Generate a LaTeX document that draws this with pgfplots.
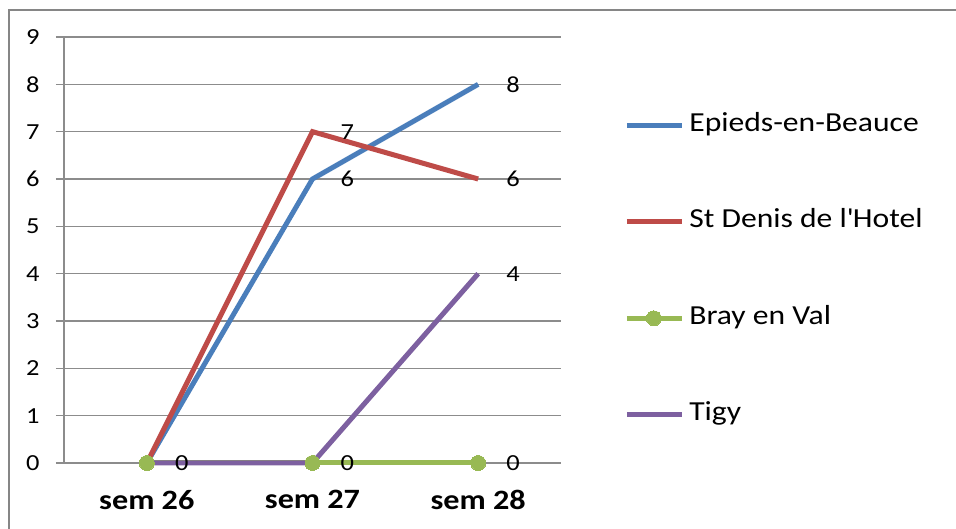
\documentclass[border=0pt]{standalone}
\usepackage{pgfplots}
\pgfplotsset{compat=1.18}
\usepackage{fontspec}
\setmainfont{Carlito}[FakeStretch=1.15]
\definecolor{cblue}{HTML}{4A7EBB}
\definecolor{cred}{HTML}{BE4B48}
\definecolor{cgreen}{HTML}{98B954}
\definecolor{cpurple}{HTML}{7D60A0}
\definecolor{axgray}{HTML}{8C8C8C}
\definecolor{bordergray}{HTML}{868686}
\begin{document}
\begin{tikzpicture}[x=1pt,y=1pt]
\useasboundingbox (0,0) rectangle (956,529);
\draw[line width=2.5pt, bordergray] (9,-5) -- (9,519) -- (960,519);
\begin{axis}[
  at={(64pt,66pt)}, anchor=south west,
  scale only axis, width=497pt, height=426pt,
  xmin=-0.5, xmax=2.5, ymin=0, ymax=9,
  axis x line*=bottom, axis y line*=left,
  axis line style={axgray, line width=1.2pt},
  ytick={0,1,...,9},
  ymajorgrids, grid style={axgray, line width=1.2pt},
  tick align=outside, major tick length=8pt,
  tick style={axgray, line width=1.2pt},
  /pgf/number format/assume math mode=true,
  yticklabel style={font=\fontsize{23pt}{26pt}\selectfont, xshift=-13pt},
  xtick={0,1,2},
  xticklabels={sem 26, sem 27, sem 28},
  x tick style={draw=none},
  xticklabel style={font=\fontsize{28pt}{32pt}\selectfont\bfseries, yshift=-16pt},
  extra x ticks={-0.5,0.5,1.5,2.5},
  extra x tick labels={},
  extra x tick style={grid=none, major tick length=10pt, tick style={axgray, line width=1.2pt}},
  clip=false,
  every node near coord/.append style={font=\fontsize{23pt}{26pt}\selectfont, anchor=west, inner sep=0pt, xshift=28pt, text=black},
  legend style={at={(1.127,0.453)}, anchor=west, draw=none, fill=none, inner sep=0pt,
    font=\fontsize{27.5pt}{30pt}\selectfont, row sep=72.5pt, column sep=5pt,
    nodes={inner sep=0pt, text height=18pt, text depth=6pt}},
  legend cell align=left,
  legend image code/.code={\draw[#1, mark repeat=2, mark phase=2] plot coordinates {(0pt,0pt) (27pt,0pt) (55pt,0pt)};},
]
\addplot[cblue, line width=5pt, no markers] coordinates {(0,0) (1,6) (2,8)};
\addlegendentry{Epieds-en-Beauce}
\addplot[cred, line width=5pt, no markers] coordinates {(0,0) (1,7) (2,6)};
\addlegendentry{St Denis de l\textquotesingle Hotel}
\addplot[cgreen, line width=5pt, mark=*, mark size=7.5pt, mark options={fill=cgreen, draw=cgreen, line width=0pt}] coordinates {(0,0) (1,0) (2,0)};
\addlegendentry{Bray en Val}
\addplot[cpurple, line width=5pt, no markers] coordinates {(0,0) (1,0) (2,4)};
\addlegendentry{Tigy}
% data labels (coinciding zero labels shown once)
\addplot[draw=none, no markers, forget plot, nodes near coords] coordinates {(0,0) (1,6) (2,8)};
\addplot[draw=none, no markers, forget plot, nodes near coords] coordinates {(1,7) (2,6)};
\addplot[draw=none, no markers, forget plot, nodes near coords] coordinates {(1,0) (2,0)};
\addplot[draw=none, no markers, forget plot, nodes near coords] coordinates {(2,4)};
\end{axis}
\end{tikzpicture}
\end{document}
